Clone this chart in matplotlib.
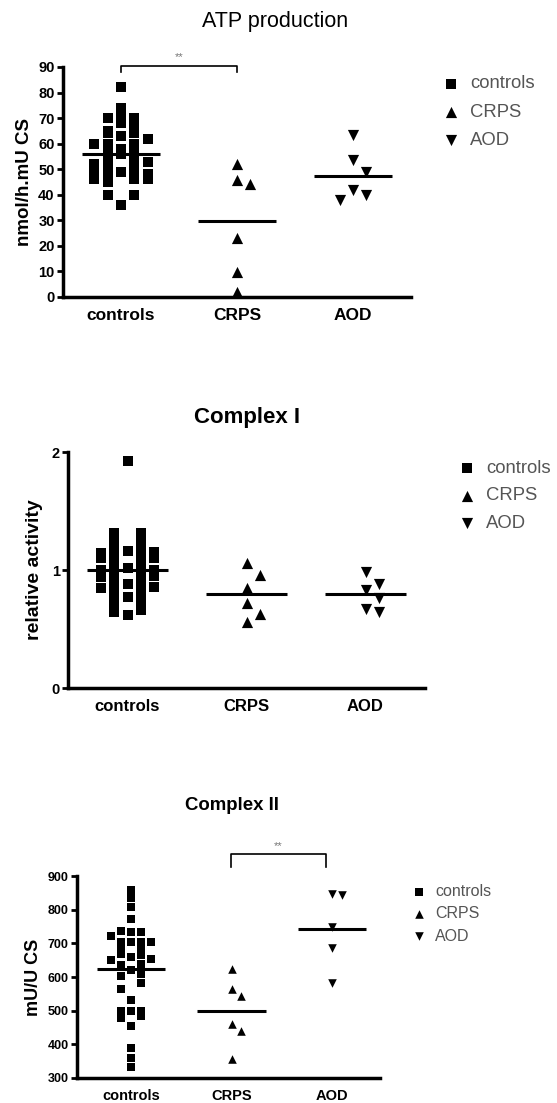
import numpy as np
import matplotlib
matplotlib.use("Agg")
import matplotlib.pyplot as plt

plt.rcParams['font.family'] = ['Liberation Sans', 'DejaVu Sans']

groups = ['controls', 'CRPS', 'AOD']

# ATP production (nmol/h.mU CS)
atp_controls = [72, 65, 60, 55, 52, 48, 46,
                70, 64, 62, 56, 52, 49, 45, 40,
                82, 74, 68, 63, 58, 55, 50, 47, 46, 36,
                70, 66, 60, 56, 52, 48, 46, 40,
                64, 60, 56, 53, 50, 47]
atp_crps = [52.2, 45.7, 44.4, 23.2, 9.8, 2.0]
atp_aod = [63.3, 53.5, 48.9, 41.7, 39.8, 37.8]

# Complex I (relative activity)
c1_controls = [1.92, 1.31, 1.29, 1.31, 1.22, 1.20, 1.22, 1.18, 1.15, 1.12,
               1.14, 1.10, 1.08, 1.06, 1.05, 1.03, 1.02, 1.00, 0.98, 0.97,
               0.95, 0.93, 0.92, 0.90, 0.89, 0.88, 0.86, 0.85, 0.84, 0.82,
               0.80, 0.78, 0.77, 0.75, 0.74, 0.72, 0.70, 0.66, 0.64, 0.62,
               1.16, 1.10, 0.94, 1.00, 1.25, 1.13]
c1_crps = [1.06, 0.96, 0.85, 0.72, 0.63, 0.56]
c1_aod = [0.98, 0.88, 0.83, 0.76, 0.67, 0.64]

# Complex II (mU/U CS)
c2_controls = [858, 836, 808, 773, 738, 703, 733, 733, 723, 703, 703, 703,
               690, 668, 658, 653, 650, 665, 635, 640, 608, 603, 565, 581,
               533, 498, 483, 498, 498, 478, 453, 388, 358, 333, 620, 680]
c2_crps = [625, 565, 545, 460, 440, 355]
c2_aod = [848, 845, 750, 685, 583]

markers = ['s', '^', 'v']


def binned(vals, xc, dx, binh):
    # prism-like scatter: values in the same bin are spread across columns
    vals = np.asarray(vals, dtype=float)
    xs = np.full(len(vals), float(xc))
    bins = np.floor(vals / binh)
    for b in np.unique(bins):
        idx = np.where(bins == b)[0]
        idx = idx[np.argsort(vals[idx])]
        n = len(idx)
        if n % 2:
            offs = [0] + [s * k for k in range(1, n) for s in (1, -1)]
        else:
            offs = [s * k for k in range(1, n) for s in (-1, 1)]
        for j, i in enumerate(idx):
            xs[i] = xc + offs[j] * dx
    return xs


def swarm(vals, xc, dx, dy):
    # small groups: step sideways when a neighbour is too close
    vals = np.asarray(vals, dtype=float)
    xs = np.zeros(len(vals))
    placed = []
    offs = [0]
    for k in range(1, 10):
        offs += [k, -k]
    for i in np.argsort(vals)[::-1]:
        v = vals[i]
        for o in offs:
            x = xc + o * dx
            if all(abs(x - px) > dx * 0.5 or abs(v - py) >= dy for px, py in placed):
                break
        placed.append((x, v))
        xs[i] = x
    return xs


def panel(fig, rect, data, ylim, yticks, ylabel, ylab, title, title_xy,
          sizes, fs_x, fs_y, leg_xy, leg_fs, leg_sp, binh, xlim=(-0.5, 2.5)):
    ax = fig.add_axes(rect)
    ax.set_xlim(*xlim)
    ax.set_ylim(*ylim)
    bb = ax.get_window_extent()
    px_x = (xlim[1] - xlim[0]) / bb.width
    px_y = (ylim[1] - ylim[0]) / bb.height
    side = np.sqrt(sizes[0]) * fig.dpi / 72
    for i, vals in enumerate(data):
        if i == 0:
            xs = binned(vals, i, side * 1.3 * px_x, side * binh * px_y)
        else:
            xs = swarm(vals, i, side * 1.3 * px_x, side * 1.3 * px_y)
        ax.scatter(xs, vals, s=sizes[min(i, 1)], marker=markers[i], c='black',
                   linewidths=0, label=groups[i], clip_on=False, zorder=3)
        ax.hlines(np.mean(vals), i - 0.34, i + 0.34, colors='black', lw=2.2, zorder=4)
    ax.set_xticks(range(3))
    ax.set_xticklabels(groups, fontsize=fs_x, fontweight='bold')
    ax.set_yticks(yticks)
    ax.tick_params(axis='x', length=0, pad=8)
    ax.tick_params(axis='y', length=4, width=2, labelsize=fs_y, pad=2)
    for t in ax.get_yticklabels():
        t.set_fontweight('bold')
    for s in ['top', 'right']:
        ax.spines[s].set_visible(False)
    for s in ['left', 'bottom']:
        ax.spines[s].set_linewidth(2.5)
    ax.set_ylabel(ylabel, fontsize=ylab[1], fontweight='bold', va='center')
    ax.yaxis.set_label_coords(ylab[0], 0.5)
    fig.text(title_xy[0] / 557, 1 - title_xy[1] / 1103, title[0],
             fontsize=title[1], fontweight=title[2], ha='center', va='center')
    ax.legend(loc='center left', bbox_to_anchor=(leg_xy[0] / 557, 1 - leg_xy[1] / 1103),
              bbox_transform=fig.transFigure, frameon=False, fontsize=leg_fs,
              labelcolor='#555555', handlelength=0.8, handletextpad=0.6,
              labelspacing=leg_sp, borderpad=0, borderaxespad=0)
    return ax


def bracket(ax, x0, x1, ytop, ybot, ystar):
    ax.plot([x0, x0, x1, x1], [ybot, ytop, ytop, ybot], color='black', lw=1.2, clip_on=False)
    ax.text((x0 + x1) / 2, ystar, '**', ha='center', va='center', fontsize=8,
            color='#777777', clip_on=False)


fig = plt.figure(figsize=(5.57, 11.03), dpi=100)

ax1 = panel(fig, [63 / 557, 1 - 297 / 1103, 348 / 557, 230 / 1103],
            [atp_controls, atp_crps, atp_aod], (0, 90), range(0, 91, 10),
            'nmol/h.mU CS', (-0.11, 13.5), ('ATP production', 15.5, 'normal'), (275, 21),
            (55, 65), 12.5, 10.5, (444, 112), 13.3, 0.6, 0.55)
bracket(ax1, 0, 1, 90.5, 88, 94)

ax2 = panel(fig, [68 / 557, 1 - 688 / 1103, 357 / 557, 236 / 1103],
            [c1_controls, c1_crps, c1_aod], (0, 2), [0, 1, 2],
            'relative activity', (-0.095, 14), ('Complex I', 16, 'bold'), (247, 417),
            (55, 65), 12, 10.5, (460, 496), 13.3, 0.58, 0.55)

ax3 = panel(fig, [77 / 557, 1 - 1078 / 1103, 303 / 557, 202 / 1103],
            [c2_controls, c2_crps, c2_aod], (300, 900), range(300, 901, 100),
            'mU/U CS', (-0.145, 13), ('Complex II', 13.4, 'bold'), (232, 806),
            (30, 38), 10.5, 9, (413, 914), 11.5, 0.45, 1.0, xlim=(-0.54, 2.48))
bracket(ax3, 0.99, 1.94, 965, 927, 989)

fig.savefig('out.png', dpi=100, facecolor='white')
